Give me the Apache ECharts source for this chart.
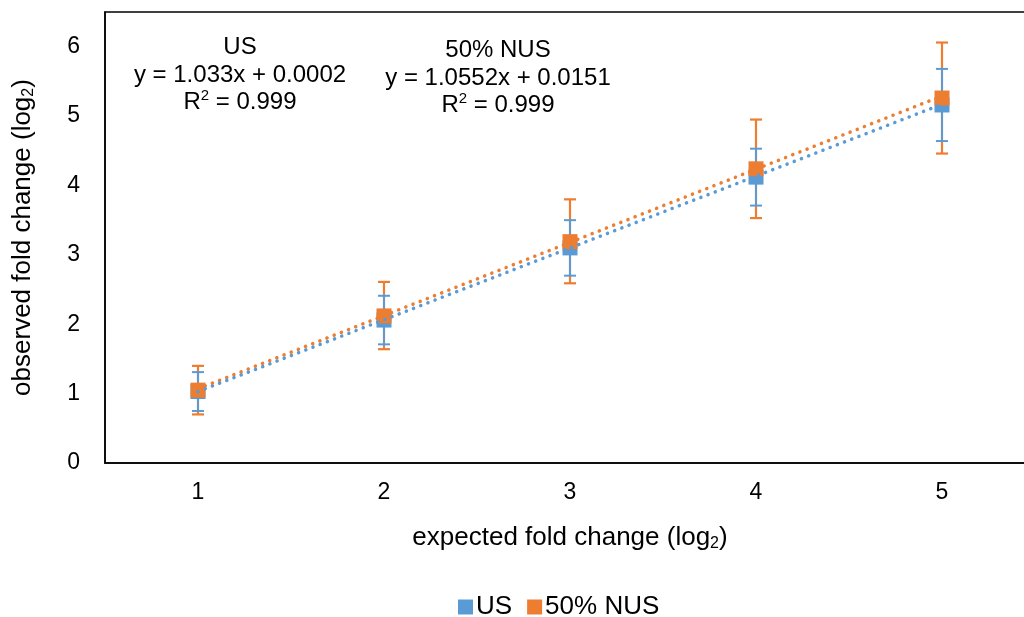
<!DOCTYPE html>
<html>
<head>
<meta charset="utf-8">
<script src="https://cdn.jsdelivr.net/npm/echarts@6/dist/echarts.min.js"></script>
<style>html,body{margin:0;padding:0;background:#fff}#c{width:1024px;height:617px}</style>
</head>
<body>
<div id="c"></div>
<script>
const xs = [1, 2, 3, 4, 5];
const usMean = [1.03, 2.06, 3.10, 4.12, 5.16];
const usLow = [0.75, 1.71, 2.70, 3.71, 4.64];
const usHigh = [1.31, 2.41, 3.50, 4.53, 5.68];
const nusMean = [1.05, 2.12, 3.19, 4.24, 5.26];
const nusLow = [0.70, 1.64, 2.59, 3.53, 4.46];
const nusHigh = [1.40, 2.61, 3.80, 4.95, 6.06];
const trendX = [1, 5];
const usTrend = [1.03, 5.17];
const nusTrend = [1.07, 5.29];
const xTicks = [1, 2, 3, 4, 5];
const yTicks = [0, 1, 2, 3, 4, 5, 6];
const seriesNames = ['US', '50% NUS'];

const BLUE = '#5B9BD5', ORANGE = '#ED7D31';
const FONT = '"Liberation Sans", Arial, sans-serif';

function errSeries(low, high, color, lw) {
  return {
    type: 'custom',
    silent: true,
    data: xs.map((x, i) => [x, low[i], high[i]]),
    renderItem: function (params, api) {
      const x = api.value(0);
      const a = api.coord([x, api.value(1)]);
      const b = api.coord([x, api.value(2)]);
      const w = 6;
      const st = { stroke: color, lineWidth: lw };
      return {
        type: 'group',
        children: [
          { type: 'line', shape: { x1: a[0], y1: a[1], x2: b[0], y2: b[1] }, style: st },
          { type: 'line', shape: { x1: a[0] - w, y1: a[1], x2: a[0] + w, y2: a[1] }, style: st },
          { type: 'line', shape: { x1: b[0] - w, y1: b[1], x2: b[0] + w, y2: b[1] }, style: st }
        ]
      };
    },
    z: 2
  };
}

const annMain = { fontSize: 24, fontFamily: FONT, color: '#000', lineHeight: 28 };
const annSup = { fontSize: 15, fontFamily: FONT, color: '#000', verticalAlign: 'top', lineHeight: 28, padding: [0, 0, 10, 0] };
const titleMain = { fontSize: 26, fontFamily: FONT, color: '#000', lineHeight: 30 };
const titleSub = { fontSize: 16, fontFamily: FONT, color: '#000', lineHeight: 30, padding: [12, 0, 0, 0] };

function label(x, y, text) {
  return {
    type: 'text', x: x, y: y,
    style: { text: text, textAlign: 'center', textVerticalAlign: 'middle', rich: { n: annMain, s: annSup }, fontFamily: FONT, fontSize: 24, fill: '#000' }
  };
}

const chart = echarts.init(document.getElementById('c'));
chart.setOption({
  animation: false,
  backgroundColor: '#fff',
  grid: { left: 105, top: 12, width: 930, height: 451, outerBoundsMode: 'none', containLabel: false, show: true, borderColor: '#000', borderWidth: 1.5, backgroundColor: 'transparent' },
  xAxis: {
    type: 'value', min: 0.5, max: 5.5,
    axisLine: { show: true, lineStyle: { color: '#000', width: 1.5 } },
    axisTick: { show: false },
    splitLine: { show: false },
    axisLabel: { customValues: xTicks, fontSize: 23, fontFamily: FONT, color: '#000', margin: 18 },
    name: '{n|expected fold change (log}{b|2}{n|)}',
    nameLocation: 'middle', nameGap: 60,
    nameTextStyle: { rich: { n: titleMain, b: titleSub } }
  },
  yAxis: {
    type: 'value', min: 0, max: 6.5,
    axisLine: { show: true, lineStyle: { color: '#000', width: 1.5 } },
    axisTick: { show: false },
    splitLine: { show: false },
    axisLabel: { customValues: yTicks, fontSize: 23, fontFamily: FONT, color: '#000', margin: 25 },
    name: '{n|observed fold change (log}{b|2}{n|)}',
    nameLocation: 'middle', nameGap: 67, nameRotate: 90,
    nameTextStyle: { rich: { n: titleMain, b: titleSub } }
  },
  legend: {
    data: seriesNames,
    top: 589, left: 453,
    itemWidth: 15, itemHeight: 15, itemGap: 15,
    icon: 'rect',
    textStyle: { fontSize: 26, fontFamily: FONT, color: '#000', padding: [0, 0, 0, -2] }
  },
  graphic: [
    label(240, 47, '{n|US}'),
    label(240, 75, '{n|y = 1.033x + 0.0002}'),
    label(240, 102, '{n|R}{s|2}{n| = 0.999}'),
    label(498, 50, '{n|50% NUS}'),
    label(498, 78, '{n|y = 1.0552x + 0.0151}'),
    label(498, 105, '{n|R}{s|2}{n| = 0.999}')
  ],
  series: [
    errSeries(nusLow, nusHigh, ORANGE, 2.2),
    errSeries(usLow, usHigh, BLUE, 2),
    {
      name: 'US', type: 'scatter', symbol: 'rect', symbolSize: 15,
      itemStyle: { color: BLUE, opacity: 1 },
      data: xs.map((x, i) => [x, usMean[i]]), z: 3
    },
    {
      name: '50% NUS', type: 'scatter', symbol: 'rect', symbolSize: 15,
      itemStyle: { color: ORANGE, opacity: 1 },
      data: xs.map((x, i) => [x, nusMean[i]]), z: 4
    },
    {
      type: 'line', silent: true, symbol: 'none',
      lineStyle: { color: ORANGE, width: 3.5, type: [0.1, 7.6], cap: 'round' },
      data: trendX.map((x, i) => [x, nusTrend[i]]), z: 5
    },
    {
      type: 'line', silent: true, symbol: 'none',
      lineStyle: { color: BLUE, width: 3.5, type: [0.1, 7.6], cap: 'round' },
      data: trendX.map((x, i) => [x, usTrend[i]]), z: 6
    }
  ]
});
</script>
</body>
</html>
